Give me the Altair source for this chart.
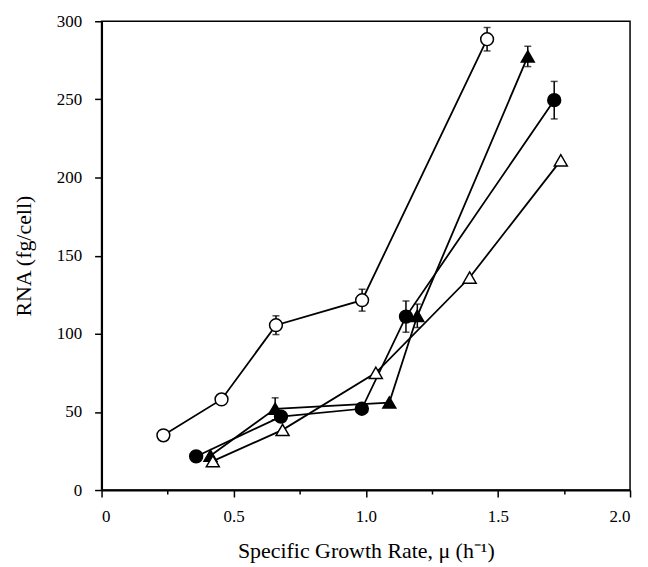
import altair as alt
import pandas as pd

# Series data
series_names = ["open_circle", "filled_circle", "filled_triangle", "open_triangle"]
oc_x = [0.234, 0.454, 0.66, 0.986, 1.459]
oc_y = [35, 58, 105.5, 121.5, 288.5]
oc_err = [0, 0, 6, 7, 7.5]
fc_x = [0.358, 0.679, 0.985, 1.152, 1.713]
fc_y = [21.5, 47, 52, 111, 249.5]
fc_err = [0, 0, 0, 10, 12]
ft_x = [0.412, 0.657, 1.089, 1.195, 1.613]
ft_y = [22, 52, 56, 111.5, 277.5]
ft_err = [0, 7, 0, 7.5, 6.5]
ot_x = [0.421, 0.685, 1.038, 1.393, 1.738]
ot_y = [18.5, 38.5, 75, 136, 211]
ot_err = [0, 0, 0, 0, 0]

x_ticks = [0, 0.25, 0.5, 0.75, 1.0, 1.25, 1.5, 1.75, 2.0]
y_ticks = [0, 25, 50, 75, 100, 125, 150, 175, 200, 225, 250, 275, 300]

rows = []
for name, xs, ys, es in [
    ("open_circle", oc_x, oc_y, oc_err),
    ("filled_circle", fc_x, fc_y, fc_err),
    ("filled_triangle", ft_x, ft_y, ft_err),
    ("open_triangle", ot_x, ot_y, ot_err),
]:
    for i, (xv, yv, ev) in enumerate(zip(xs, ys, es)):
        rows.append({"series": name, "order": i, "mu": xv, "rna": yv, "err": ev,
                     "lo": yv - ev, "hi": yv + ev})
df = pd.DataFrame(rows)
df_err = df[df["err"] > 0]

FONT = "Liberation Serif"

xscale = alt.Scale(domain=[0, 2], nice=False, zero=False)
yscale = alt.Scale(domain=[0, 300], nice=False)

xaxis = alt.Axis(
    values=x_ticks,
    labelExpr="datum.value == 0 ? '0' : (datum.value % 0.5 == 0 ? format(datum.value, '.1f') : '')",
    tickSize={"condition": {"test": "datum.value % 0.5 == 0", "value": 7}, "value": 4},
    title="Specific Growth Rate, μ (h⁻¹)",
    titleFontSize=22, labelFontSize=17, labelPadding=12, titlePadding=16,
)
yaxis = alt.Axis(
    values=y_ticks,
    labelExpr="datum.value % 50 == 0 ? datum.label : ''",
    tickSize={"condition": {"test": "datum.value % 50 == 0", "value": 7}, "value": 4},
    title="RNA (fg/cell)",
    titleFontSize=22, labelFontSize=17, labelPadding=13, titlePadding=21,
)

base = alt.Chart(df)

lines = base.mark_line(color="black", strokeWidth=1.8).encode(
    x=alt.X("mu:Q", scale=xscale, axis=xaxis),
    y=alt.Y("rna:Q", scale=yscale, axis=yaxis),
    detail="series:N",
    order="order:Q",
)

err_base = alt.Chart(df_err)
err_rules = err_base.mark_rule(color="black", strokeWidth=1.5).encode(
    x="mu:Q", y="lo:Q", y2="hi:Q"
)
err_cap_hi = err_base.mark_tick(color="black", thickness=1.5, size=7, orient="horizontal").encode(
    x="mu:Q", y="hi:Q"
)
err_cap_lo = err_base.mark_tick(color="black", thickness=1.5, size=7, orient="horizontal").encode(
    x="mu:Q", y="lo:Q"
)

points = base.mark_point(filled=True, stroke="black", strokeWidth=1.5, opacity=1).encode(
    x="mu:Q",
    y="rna:Q",
    shape=alt.Shape("series:N", scale=alt.Scale(
        domain=series_names,
        range=["circle", "circle", "triangle-up", "triangle-up"]), legend=None),
    fill=alt.Fill("series:N", scale=alt.Scale(
        domain=series_names,
        range=["white", "black", "black", "white"]), legend=None),
    size=alt.Size("series:N", scale=alt.Scale(
        domain=series_names, range=[165, 170, 120, 110]), legend=None),
)

chart = alt.layer(lines, err_rules, err_cap_hi, err_cap_lo, points).properties(
    width=531, height=471,
    autosize=alt.AutoSizeParams(type="none"),
    padding={"left": 94, "top": 12, "right": 10, "bottom": 75},
    background="white",
).configure_view(
    stroke="black", strokeWidth=1.5
).configure_axis(
    labelFont=FONT, titleFont=FONT, labelColor="black", titleColor="black",
    titleFontWeight="normal", domainColor="black", tickColor="black",
    domainWidth=2, tickWidth=1.5, grid=False,
)

chart.save("out.html", embed_options={"renderer": "svg", "actions": False})
